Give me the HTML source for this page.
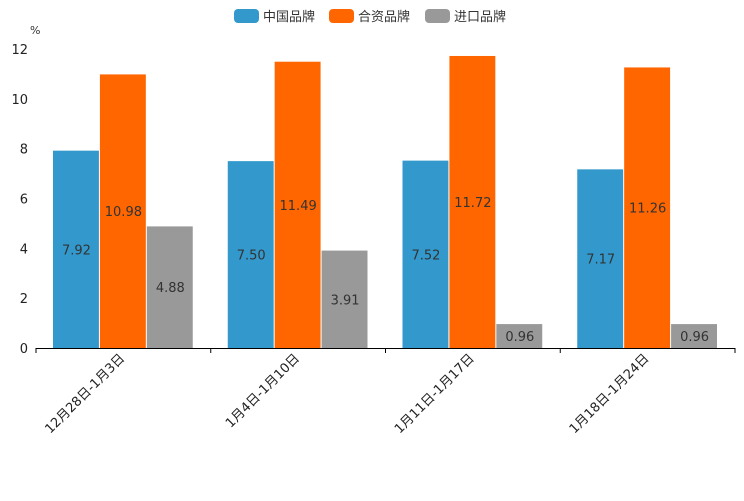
<!DOCTYPE html>
<html><head><meta charset="utf-8"><style>
body{margin:0;background:#fff;}
svg{font-family:"DejaVu Sans","Noto Sans CJK SC",sans-serif;}
</style></head><body>
<svg id="chart" width="744" height="496" viewBox="0 0 744 496" xmlns="http://www.w3.org/2000/svg">
<g id="legend">
<g><rect x="234" y="9" width="25" height="14" rx="4" fill="#3399cc"/><text x="263" y="21" font-size="13" fill="#333">中国品牌</text></g>
<g><rect x="329" y="9" width="25" height="14" rx="4" fill="#ff6600"/><text x="358" y="21" font-size="13" fill="#333">合资品牌</text></g>
<g><rect x="425" y="9" width="25" height="14" rx="4" fill="#999999"/><text x="454" y="21" font-size="13" fill="#333">进口品牌</text></g>
</g>
<text x="30" y="34" font-size="11" fill="#333">%</text>
<g id="yaxis"></g>
<g id="bars"></g>
<g id="xaxis"></g>
</svg>
<script>
const categories=["12月28日-1月3日","1月4日-1月10日","1月11日-1月17日","1月18日-1月24日"];
const chinaValues=[7.92,7.50,7.52,7.17];
const jvValues=[10.98,11.49,11.72,11.26];
const importValues=[4.88,3.91,0.96,0.96];
const yTicks=[0,2,4,6,8,10,12];
const NS="http://www.w3.org/2000/svg";
const x0=36,x1=735,y0=348,yTop=49,yMax=12;
const band=(x1-x0)/categories.length,pad=17,bw=(band-2*pad)/3;
const y=v=>y0-(v/yMax)*(y0-yTop);
function mk(t,a,p){const e=document.createElementNS(NS,t);for(const k in a)e.setAttribute(k,a[k]);p.appendChild(e);return e;}
const ya=document.getElementById('yaxis');
yTicks.forEach(v=>{const t=mk('text',{x:28,y:y(v)+5,'text-anchor':'end','font-size':13,fill:'#222'},ya);t.textContent=v;

});
const series=[[chinaValues,'#3399cc','china'],[jvValues,'#ff6600','jv'],[importValues,'#999999','import']];
const bg=document.getElementById('bars');
categories.forEach((c,i)=>{series.forEach(([vals,col,nm],s)=>{const bx=x0+i*band+pad+s*bw;
const r=mk('rect',{x:bx,y:y(vals[i]),width:bw-1,height:y0-y(vals[i]),fill:col},bg);


const t=mk('text',{x:bx+bw/2,y:(y(vals[i])+y0)/2+5,'text-anchor':'middle','font-size':13,fill:'#333'},bg);t.textContent=vals[i].toFixed(2);

});});
const xa=document.getElementById('xaxis');
mk('line',{x1:x0,y1:y0+0.5,x2:x1,y2:y0+0.5,stroke:'#000','stroke-width':1},xa);
for(let i=0;i<=categories.length;i++){mk('line',{x1:x0+i*band,y1:y0,x2:x0+i*band,y2:y0+5,stroke:'#000'},xa);}
categories.forEach((c,i)=>{const cx=x0+i*band+band/2;const t=mk('text',{x:cx+2,y:y0+11,'text-anchor':'end','font-size':13,fill:'#222',transform:`rotate(-45 ${cx+2} ${y0+11})`},xa);t.textContent=c;

});
</script>
</body></html>
